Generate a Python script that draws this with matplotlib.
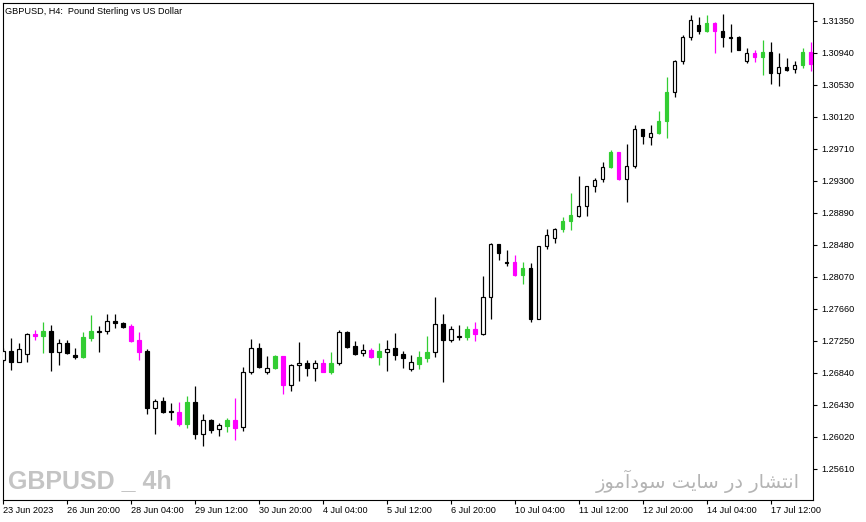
import unicodedata
import matplotlib
matplotlib.use("Agg")
import matplotlib.pyplot as plt

# ---------------- data (GBPUSD H4 candles) ----------------
opens = [1.27009, 1.27118, 1.26981, 1.27076, 1.27336, 1.27314, 1.27374, 1.27109, 1.27221, 1.27067,
         1.27041, 1.27288, 1.27361, 1.27370, 1.27499, 1.27481, 1.27442, 1.27259, 1.27118, 1.26392,
         1.26477, 1.26353, 1.26336, 1.26187, 1.26465, 1.26058, 1.26234, 1.26122, 1.26161, 1.26234,
         1.26140, 1.26845, 1.27153, 1.26845, 1.26896, 1.27054, 1.26686, 1.26935, 1.26960, 1.26904,
         1.26960, 1.26853, 1.26960, 1.27361, 1.27182, 1.27089, 1.27127, 1.27045, 1.27109, 1.27156,
         1.27080, 1.26891, 1.26955, 1.27032, 1.27101, 1.27464, 1.27263, 1.27301, 1.27301, 1.27400,
         1.27340, 1.27806, 1.28489, 1.28258, 1.28258, 1.28092, 1.28181, 1.27532, 1.28459, 1.28562,
         1.28677, 1.28780, 1.28852, 1.28972, 1.29228, 1.29318, 1.29472, 1.29664, 1.29318, 1.29484,
         1.29959, 1.29856, 1.29907, 1.30061, 1.30433, 1.30830, 1.31137, 1.31291, 1.31214, 1.31321,
         1.31214, 1.31137, 1.31137, 1.30830, 1.30932, 1.30881, 1.30945, 1.30676, 1.30753, 1.30727,
         1.30779, 1.30945]
highs = [1.27156, 1.27285, 1.27221, 1.27349, 1.27387, 1.27490, 1.27451, 1.27272, 1.27259, 1.27156,
         1.27361, 1.27579, 1.27438, 1.27592, 1.27592, 1.27493, 1.27464, 1.27361, 1.27140, 1.26503,
         1.26529, 1.26452, 1.26465, 1.26541, 1.26670, 1.26311, 1.26247, 1.26196, 1.26260, 1.26516,
         1.26909, 1.27272, 1.27221, 1.27054, 1.27067, 1.27060, 1.26948, 1.27233, 1.27003, 1.27003,
         1.27016, 1.27105, 1.27387, 1.27374, 1.27246, 1.27208, 1.27156, 1.27221, 1.27259, 1.27352,
         1.27118, 1.27067, 1.27118, 1.27310, 1.27810, 1.27592, 1.27434, 1.27451, 1.27438, 1.27490,
         1.28079, 1.28502, 1.28495, 1.28412, 1.28348, 1.28258, 1.28246, 1.28466, 1.28681, 1.28690,
         1.28835, 1.29142, 1.29360, 1.29232, 1.29331, 1.29536, 1.29689, 1.29668, 1.29766, 1.30010,
         1.29962, 1.30010, 1.30189, 1.30625, 1.30843, 1.31163, 1.31419, 1.31394, 1.31419, 1.31333,
         1.31436, 1.31308, 1.31150, 1.30996, 1.30971, 1.31099, 1.31073, 1.30932, 1.30868, 1.30830,
         1.30996, 1.31073]
lows = [1.26977, 1.26875, 1.26971, 1.26981, 1.27259, 1.27096, 1.26866, 1.26942, 1.27083, 1.27019,
        1.27028, 1.27250, 1.27105, 1.27332, 1.27417, 1.27417, 1.27233, 1.27007, 1.26315, 1.26058,
        1.26324, 1.26238, 1.26161, 1.26135, 1.25994, 1.25905, 1.26071, 1.26033, 1.26084, 1.25982,
        1.26097, 1.26819, 1.26904, 1.26827, 1.26884, 1.26571, 1.26609, 1.26730, 1.26802, 1.26737,
        1.26845, 1.26827, 1.26935, 1.27156, 1.27071, 1.27058, 1.27024, 1.26939, 1.26862, 1.27003,
        1.26904, 1.26866, 1.26891, 1.26981, 1.27045, 1.26725, 1.27237, 1.27263, 1.27263, 1.27250,
        1.27327, 1.27532, 1.28288, 1.28211, 1.28079, 1.27976, 1.27493, 1.27525, 1.28429, 1.28506,
        1.28647, 1.28672, 1.28839, 1.28852, 1.29151, 1.29279, 1.29459, 1.29315, 1.29031, 1.29459,
        1.29766, 1.29754, 1.29894, 1.29843, 1.30369, 1.30791, 1.31099, 1.31176, 1.31201, 1.30932,
        1.31009, 1.30945, 1.30971, 1.30812, 1.30817, 1.30650, 1.30535, 1.30509, 1.30702, 1.30676,
        1.30740, 1.30702]
closes = [1.27114, 1.26981, 1.27144, 1.27336, 1.27314, 1.27374, 1.27109, 1.27217, 1.27096, 1.27045,
          1.27297, 1.27374, 1.27374, 1.27502, 1.27481, 1.27429, 1.27250, 1.27109, 1.26392, 1.26477,
          1.26340, 1.26333, 1.26187, 1.26465, 1.26058, 1.26234, 1.26110, 1.26166, 1.26234, 1.26135,
          1.26845, 1.27153, 1.26913, 1.26896, 1.27054, 1.26686, 1.26935, 1.26960, 1.26904, 1.26960,
          1.26853, 1.26960, 1.27361, 1.27171, 1.27083, 1.27127, 1.27045, 1.27114, 1.27140, 1.27071,
          1.27032, 1.26977, 1.27041, 1.27105, 1.27464, 1.27263, 1.27396, 1.27310, 1.27400, 1.27340,
          1.27806, 1.28489, 1.28377, 1.28249, 1.28092, 1.28181, 1.27532, 1.28459, 1.28600, 1.28677,
          1.28784, 1.28861, 1.28972, 1.29228, 1.29305, 1.29472, 1.29664, 1.29318, 1.29484, 1.29959,
          1.29869, 1.29907, 1.30061, 1.30433, 1.30830, 1.31137, 1.31355, 1.31214, 1.31317, 1.31214,
          1.31137, 1.31128, 1.30978, 1.30932, 1.30881, 1.30945, 1.30676, 1.30753, 1.30722, 1.30779,
          1.30945, 1.30791]
# W = white bull, B = black bear, G = green signal bar, M = magenta signal bar
bar_style = list("WBWWMGBWBBGGWWBBMMBWBBMGBWBWGMWWBWGMWWBWMGWBBWMGWBBWGGWBWWGMWWBBMGBWWWGGWWWWGMWWBWGGWWWBGMBBBWMGBWBWGM")

date_labels = ["23 Jun 2023", "26 Jun 20:00", "28 Jun 04:00", "29 Jun 12:00", "30 Jun 20:00",
               "4 Jul 04:00", "5 Jul 12:00", "6 Jul 20:00", "10 Jul 04:00", "11 Jul 12:00",
               "12 Jul 20:00", "14 Jul 04:00", "17 Jul 12:00"]
label_step = 8
price_ticks = [1.25610, 1.26020, 1.26430, 1.26840, 1.27250, 1.27660, 1.28070, 1.28480,
               1.28890, 1.29300, 1.29710, 1.30120, 1.30530, 1.30940, 1.31350]
title_text = "GBPUSD, H4:  Pound Sterling vs US Dollar"
mark_text = "GBPUSD _ 4h"
fa_text = "انتشار در سایت سودآموز"


# ---------------- minimal Persian shaping for display ----------------
def shape_fa(s):
    s = unicodedata.normalize("NFC", s)
    forms = {
        "\u0627": ("\uFE8D", "\uFE8E", None, None),
        "\u0622": ("\uFE81", "\uFE82", None, None),
        "\u0646": ("\uFEE5", "\uFEE6", "\uFEE7", "\uFEE8"),
        "\u062A": ("\uFE95", "\uFE96", "\uFE97", "\uFE98"),
        "\u0634": ("\uFEB5", "\uFEB6", "\uFEB7", "\uFEB8"),
        "\u0631": ("\uFEAD", "\uFEAE", None, None),
        "\u062F": ("\uFEA9", "\uFEAA", None, None),
        "\u0633": ("\uFEB1", "\uFEB2", "\uFEB3", "\uFEB4"),
        "\u06CC": ("\uFBFC", "\uFBFD", "\uFEF3", "\uFEF4"),
        "\u064A": ("\uFEF1", "\uFEF2", "\uFEF3", "\uFEF4"),
        "\u0648": ("\uFEED", "\uFEEE", None, None),
        "\u0645": ("\uFEE1", "\uFEE2", "\uFEE3", "\uFEE4"),
        "\u0632": ("\uFEAF", "\uFEB0", None, None),
    }
    out = []
    for i, ch in enumerate(s):
        if ch not in forms:
            out.append(ch)
            continue
        iso, fin, ini, med = forms[ch]
        prev = s[i - 1] if i > 0 else ""
        nxt = s[i + 1] if i + 1 < len(s) else ""
        jp = prev in forms and forms[prev][2] is not None
        jn = nxt in forms and ini is not None
        if jp and jn:
            out.append(med)
        elif jp:
            out.append(fin)
        elif jn:
            out.append(ini)
        else:
            out.append(iso)
    return "".join(reversed(out))


# ---------------- figure ----------------
plt.rcParams["font.family"] = ["Liberation Sans", "DejaVu Sans"]
W, H = 866, 522
fig = plt.figure(figsize=(W / 100, H / 100), dpi=100)
fig.patch.set_facecolor("white")
ax = fig.add_axes([2.5 / W, 22 / H, (813.3 - 2.5) / W, (519.3 - 22) / H])
ax.set_facecolor("white")

n = len(opens)
xs = list(range(n))
col_map = {"W": ("white", "black", "black"),
           "B": ("black", "black", "black"),
           "G": ("#32CD32", "#32CD32", "#32CD32"),
           "M": ("#FF00FF", "#FF00FF", "#FF00FF")}
faces = [col_map[s][0] for s in bar_style]
edges = [col_map[s][1] for s in bar_style]
wicks = [col_map[s][2] for s in bar_style]

ax.vlines(xs, lows, highs, colors=wicks, linewidth=0.9, zorder=2)
bottoms = [min(o, c) for o, c in zip(opens, closes)]
heights = [max(abs(c - o), 0.00003) for o, c in zip(opens, closes)]
ax.bar(xs, heights, width=0.46, bottom=bottoms, color=faces, edgecolor=edges,
       linewidth=0.85, zorder=3)

ax.set_xlim(-0.05, 101.35)
ax.set_ylim(1.25209, 1.31581)

for sp in ax.spines.values():
    sp.set_color("black")
    sp.set_linewidth(0.8)

ax.yaxis.tick_right()
ax.set_yticks(price_ticks)
ax.set_yticklabels([f"{p:.5f}" for p in price_ticks])
ax.tick_params(axis="y", direction="out", length=3, width=0.8, pad=2.5,
               labelsize=6.6, colors="black")

tick_pos = [i * label_step for i in range(len(date_labels))]
ax.set_xticks(tick_pos)
ax.set_xticklabels(date_labels, ha="left")
ax.tick_params(axis="x", direction="out", length=3, width=0.8, pad=1.5,
               labelsize=6.6, colors="black")
for lbl in ax.get_xticklabels():
    lbl.set_horizontalalignment("left")

ax.text(0.0035, 0.9825, title_text, transform=ax.transAxes, fontsize=6.6,
        ha="left", va="center", color="black")

ax.text(5.5 / 810.8, (500 - 481) / 497.3, mark_text, transform=ax.transAxes,
        fontsize=18, fontweight="bold", color="#c4c4c4", ha="left", va="center",
        family=["Liberation Sans Narrow", "Liberation Sans", "DejaVu Sans"])

ax.text((800 - 2.5) / 810.8, (500 - 481) / 497.3, shape_fa(fa_text),
        transform=ax.transAxes, fontsize=14, color="#b4b4b4",
        ha="right", va="center", family=["DejaVu Sans"])

fig.savefig("out.png", dpi=100, facecolor="white")
